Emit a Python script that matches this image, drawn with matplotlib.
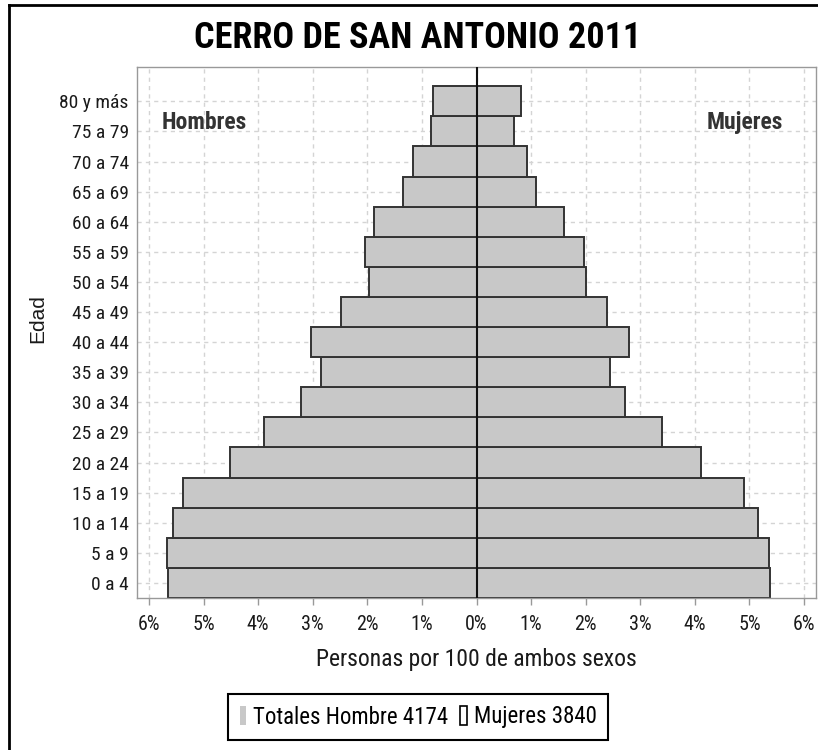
import numpy as np
import matplotlib
matplotlib.use("Agg")
import matplotlib.pyplot as plt
from matplotlib import font_manager
from matplotlib.lines import Line2D
from matplotlib.patches import Patch

# datos de la piramide (porcentaje de la poblacion total)
edades = ['0 a 4', '5 a 9', '10 a 14', '15 a 19', '20 a 24', '25 a 29',
          '30 a 34', '35 a 39', '40 a 44', '45 a 49', '50 a 54', '55 a 59',
          '60 a 64', '65 a 69', '70 a 74', '75 a 79', '80 y más']
hombres = [5.65, 5.67, 5.56, 5.38, 4.52, 3.90, 3.22, 2.85, 3.03, 2.49,
           1.965, 2.05, 1.88, 1.35, 1.16, 0.83, 0.80]
mujeres = [5.38, 5.36, 5.15, 4.91, 4.12, 3.40, 2.72, 2.45, 2.80, 2.39,
           2.00, 1.97, 1.61, 1.085, 0.93, 0.69, 0.81]
ticks_x = [-6, -5, -4, -3, -2, -1, 0, 1, 2, 3, 4, 5, 6]
total_h = 4174
total_m = 3840

# fuente angosta parecida a la del original
fuentes = {}
for f in font_manager.fontManager.ttflist:
    fuentes.setdefault(f.name, set()).add(f.weight)
def elegir(cands, peso=None):
    for c in cands:
        if c in fuentes and (peso is None or any(w >= peso for w in fuentes[c] if isinstance(w, int))):
            return c
    return 'Liberation Sans'
angosta = elegir(['Liberation Sans Narrow', 'Arial Narrow', 'Roboto Condensed',
                  'Archivo Narrow', 'Barlow Semi Condensed'])
angosta_b = elegir(['Liberation Sans Narrow', 'Arial Narrow', 'Roboto Condensed',
                    'Barlow Semi Condensed', 'Archivo Narrow'], 700)
normal = 'Liberation Sans'
plt.rcParams['font.family'] = [angosta, 'DejaVu Sans']

W, H = 818, 750
fig = plt.figure(figsize=(W / 100, H / 100), dpi=100)
ax = fig.add_axes([137 / W, 1 - 598 / H, (816 - 137) / W, (598 - 67) / H])

y = np.arange(len(edades))
h = np.array(hombres)
m = np.array(mujeres)

ax.barh(y, -h, height=1.0, color='#c8c8c8', edgecolor='#333333', linewidth=1.4, zorder=2)
ax.barh(y, m, height=1.0, color='#c8c8c8', edgecolor='#333333', linewidth=1.4, zorder=2)
ax.axvline(0, color='#111111', linewidth=1.5, zorder=3)

ax.set_xlim(-6.22, 6.22)
ax.set_ylim(-0.5, 17.14)

ax.set_xticks(ticks_x)
ax.set_xticklabels(['%d%%' % abs(t) for t in ticks_x])
ax.set_yticks(y)
ax.set_yticklabels(edades)

ax.tick_params(axis='x', length=5, width=1, color='#999999', pad=7, labelsize=14.5, labelcolor='#1a1a1a')
ax.tick_params(axis='y', length=0, pad=6, labelsize=14, labelcolor='#1a1a1a')

ax.grid(True, color='#d4d4d4', linestyle=(0, (3, 3)), linewidth=1, zorder=0)
ax.set_axisbelow(True)
for s in ax.spines.values():
    s.set_color('#999999')
    s.set_linewidth(1)

ax.set_xlabel('Personas por 100 de ambos sexos', fontsize=17, color='#1a1a1a', labelpad=10)
ax.set_ylabel('Edad', fontsize=15, family=normal, color='#1a1a1a')
ax.yaxis.set_label_coords((47 - 137) / (816 - 137), (598 - 319) / (598 - 67))

ax.text(-5.77, 15.28, 'Hombres', fontsize=17, fontweight='bold', family=angosta_b,
        color='#333333', ha='left', va='center')
ax.text(5.62, 15.28, 'Mujeres', fontsize=17, fontweight='bold', family=angosta_b,
        color='#333333', ha='right', va='center')

fig.text(418 / W, 1 - 38 / H, 'CERRO DE SAN ANTONIO 2011', fontsize=26,
         fontweight='bold', family=angosta_b, ha='center', va='center', color='black')

manejadores = [Patch(facecolor='#c8c8c8', edgecolor='none'),
               Patch(facecolor='white', edgecolor='black', linewidth=1.2)]
etiquetas = ['Totales Hombre %d' % total_h, 'Mujeres %d' % total_m]
leg = fig.legend(manejadores, etiquetas, loc='center', ncol=2,
                 bbox_to_anchor=(418 / W, 1 - 717 / H), fontsize=16.5,
                 handlelength=0.3, handleheight=0.85, handletextpad=0.3,
                 columnspacing=0.5, fancybox=False, framealpha=1,
                 borderpad=0.5, edgecolor='black')
leg.get_frame().set_linewidth(1.5)

# marco exterior (solo se ve arriba y a la izquierda)
fig.add_artist(Line2D([9 / W, 1], [1 - 5 / H, 1 - 5 / H], color='black', linewidth=2))
fig.add_artist(Line2D([9 / W, 9 / W], [0, 1 - 5 / H], color='black', linewidth=2))

fig.savefig('out.png', dpi=100)
